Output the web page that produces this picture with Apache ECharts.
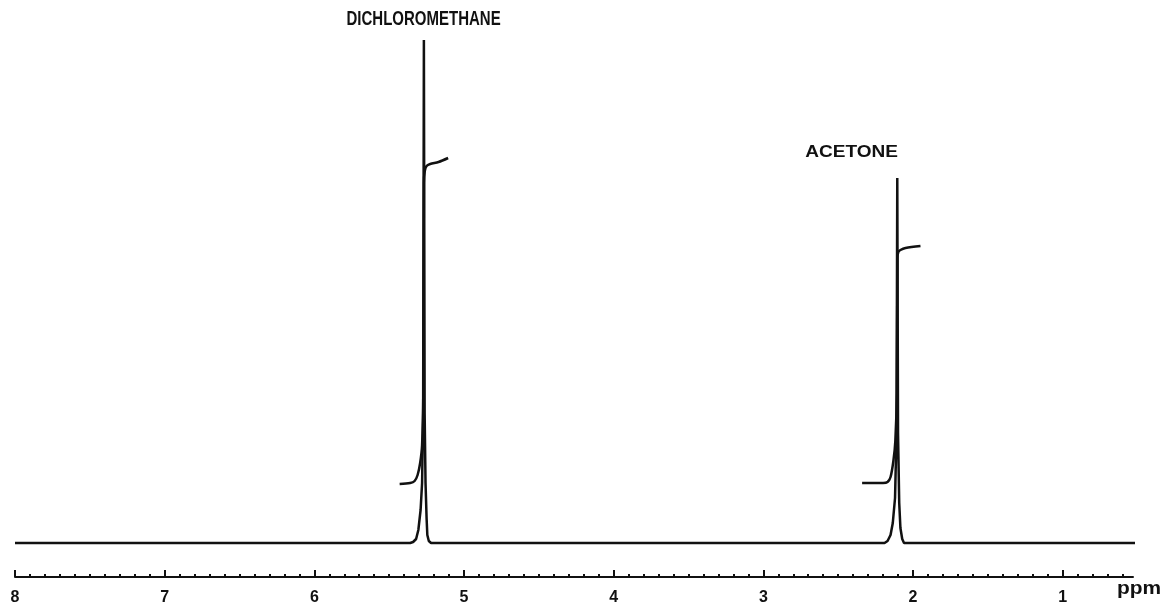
<!DOCTYPE html>
<html>
<head>
<meta charset="utf-8">
<script src="https://cdn.jsdelivr.net/npm/echarts@6/dist/echarts.min.js"></script>
<style>
html,body{margin:0;padding:0;background:#fff;}
#chart{width:1165px;height:604px;}
</style>
</head>
<body>
<div id="chart"></div>
<script>
// ppm axis tick labels
const majorTicks = [8, 7, 6, 5, 4, 3, 2, 1];
const axisMin = 0.53, axisMax = 8;

// spectrum trace [ppm, intensity]
const spectrum = [
  [8.0, 0], [5.40, 0], [5.36, 0], [5.34, 1], [5.32, 4], [5.305, 13], [5.29, 33],
  [5.28, 60], [5.273, 130], [5.268, 503], [5.263, 130], [5.257, 60], [5.25, 25],
  [5.245, 8], [5.235, 2], [5.22, 0],
  [2.19, 0], [2.17, 2], [2.15, 8], [2.135, 20], [2.12, 45], [2.11, 110],
  [2.105, 365], [2.10, 110], [2.092, 40], [2.084, 15], [2.072, 4], [2.06, 0],
  [0.50, 0]
];

// integral traces [ppm, height]
const integralDCM = [
  [5.43, 59], [5.36, 60], [5.33, 62], [5.31, 68], [5.293, 80], [5.28, 98],
  [5.272, 150], [5.268, 360], [5.262, 372], [5.25, 377], [5.226, 379],
  [5.17, 381], [5.106, 385]
];
const integralAcetone = [
  [2.34, 60], [2.20, 60], [2.17, 61], [2.15, 66], [2.131, 82], [2.118, 102],
  [2.108, 150], [2.104, 285], [2.098, 291], [2.084, 293], [2.05, 295],
  [1.95, 297]
];

// peak annotations
const peakLabels = [
  { text: 'DICHLOROMETHANE', ppm: 5.27, value: 523, align: 'center', sx: 1.0, sy: 1.3 },
  { text: 'ACETONE', ppm: 2.10, value: 391, align: 'right', sx: 1.27, sy: 1.12 }
];

const minorTicks = [];
for (let i = 6; i <= 79; i++) { if (i % 10 !== 0) minorTicks.push(i / 10); }

const chart = echarts.init(document.getElementById('chart'), null, { renderer: 'canvas' });

const lineStyle = { color: '#111', width: 2.5 };

chart.setOption({
  backgroundColor: '#fff',
  animation: false,
  grid: { left: 15, right: 32, top: 0, bottom: 27, containLabel: false, outerBoundsMode: 'none' },
  xAxis: [
    {
      type: 'value', min: axisMin, max: axisMax, inverse: true, position: 'bottom',
      axisLine: { show: true, onZero: false, lineStyle: { color: '#111', width: 2 } },
      axisTick: { show: true, inside: true, length: 7, customValues: majorTicks, lineStyle: { color: '#111', width: 2 } },
      axisLabel: {
        show: true, customValues: majorTicks, margin: 13,
        fontFamily: 'Liberation Sans', fontWeight: 'bold', fontSize: 16, color: '#111',
        formatter: v => String(v)
      },
      splitLine: { show: false }
    },
    {
      type: 'value', min: axisMin, max: axisMax, inverse: true, position: 'bottom',
      axisLine: { show: false, onZero: false },
      axisTick: { show: true, inside: true, length: 3, customValues: minorTicks, lineStyle: { color: '#111', width: 2 } },
      axisLabel: { show: false },
      splitLine: { show: false }
    }
  ],
  yAxis: {
    type: 'value', min: -34, max: 543, show: false,
    splitLine: { show: false }
  },
  series: [
    { type: 'line', data: spectrum, showSymbol: false, symbol: 'none', lineStyle: lineStyle, z: 3, clip: false },
    { type: 'line', data: integralDCM, showSymbol: false, symbol: 'none', smooth: 0.3, lineStyle: lineStyle, z: 2 },
    { type: 'line', data: integralAcetone, showSymbol: false, symbol: 'none', smooth: 0.3, lineStyle: lineStyle, z: 2 }
  ]
});

const graphics = peakLabels.map(l => {
  const p = chart.convertToPixel({ xAxisIndex: 0, yAxisIndex: 0 }, [l.ppm, l.value]);
  return {
    type: 'text', x: p[0], y: p[1], scaleX: l.sx, scaleY: l.sy, originX: 0, originY: 0,
    style: {
      text: l.text, fill: '#111', font: 'bold 15px "Liberation Sans"',
      textAlign: l.align, textVerticalAlign: 'middle'
    }
  };
});
const endPx = chart.convertToPixel({ xAxisIndex: 0, yAxisIndex: 0 }, [axisMin, -34]);
graphics.push({
  type: 'text', x: endPx[0] - 16, y: endPx[1] + 21, scaleX: 1.1,
  style: { text: 'ppm', fill: '#111', font: 'bold 19px "Liberation Sans"', textAlign: 'left', textVerticalAlign: 'bottom' }
});
chart.setOption({ graphic: graphics });
</script>
</body>
</html>
